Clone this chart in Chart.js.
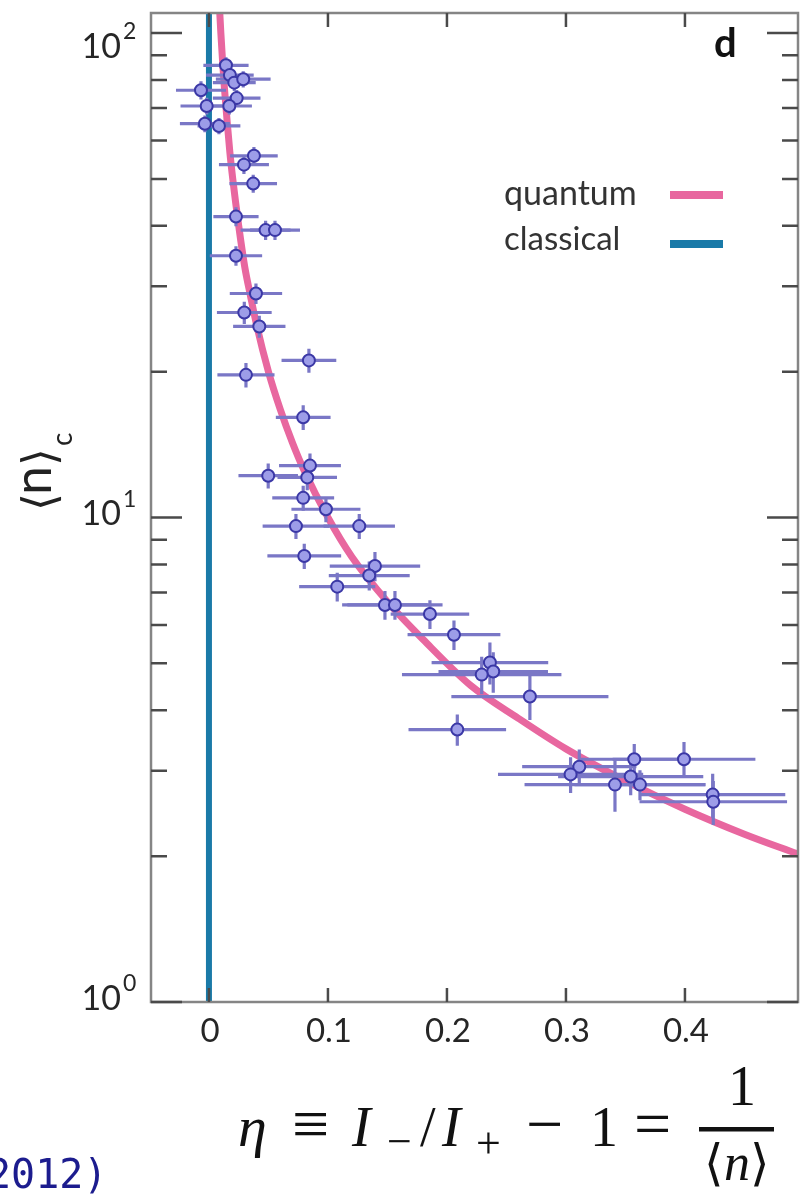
<!DOCTYPE html>
<html>
<head>
<meta charset="utf-8">
<script src="https://cdn.jsdelivr.net/npm/chart.js@4.4.1/dist/chart.umd.min.js"></script>
<style>
  html, body { margin: 0; padding: 0; background: #fff; }
  #wrap { width: 806px; height: 1195px; }
</style>
</head>
<body>
<div id="wrap"><canvas id="chart" width="806" height="1195"></canvas></div>
<script>
// === measured points: eta, <n>_c and their error bars ===
const etaVals = [0.0143, 0.0176, 0.0213, 0.0288, -0.0067, 0.0233, 0.0171, -0.0019, -0.0034, 0.0084,
                 0.0378, 0.0294, 0.0372, 0.0227, 0.0476, 0.0555, 0.0227, 0.0395, 0.0297, 0.0423,
                 0.0840, 0.0311, 0.0792, 0.0849, 0.0498, 0.0826, 0.0792, 0.0983, 0.0731, 0.1263,
                 0.0801, 0.1395, 0.1347, 0.1078, 0.1479, 0.1563, 0.1857, 0.2059, 0.2361, 0.2389,
                 0.2292, 0.2697, 0.2087, 0.3112, 0.3039, 0.3574, 0.3992, 0.3544, 0.3412, 0.3622,
                 0.4233, 0.4238];
const nVals = [85.8, 81.9, 79.0, 80.3, 76.2, 73.4, 70.7, 70.7, 65.0, 64.3,
               55.8, 53.5, 48.9, 41.8, 39.2, 39.2, 34.7, 29.0, 26.5, 24.8,
               21.1, 19.7, 16.1, 12.8, 12.2, 12.1, 10.98, 10.4, 9.6, 9.6,
               8.33, 7.94, 7.59, 7.20, 6.60, 6.60, 6.32, 5.73, 5.02, 4.81,
               4.74, 4.27, 3.65, 3.06, 2.95, 3.17, 3.17, 2.92, 2.81, 2.81,
               2.68, 2.59];
const etaErr = [0.019, 0.020, 0.018, 0.023, 0.021, 0.020, 0.019, 0.022, 0.021, 0.018,
                0.020, 0.021, 0.020, 0.019, 0.021, 0.021, 0.022, 0.022, 0.023, 0.022,
                0.023, 0.024, 0.023, 0.026, 0.025, 0.025, 0.026, 0.029, 0.028, 0.030,
                0.031, 0.038, 0.034, 0.032, 0.036, 0.040, 0.033, 0.039, 0.049, 0.046,
                0.067, 0.066, 0.041, 0.048, 0.061, 0.045, 0.060, 0.061, 0.076, 0.055,
                0.061, 0.062];
const nErr = [3.3, 3.2, 3.1, 3.1, 3.3, 2.9, 2.8, 2.8, 2.6, 2.5,
              2.4, 2.3, 2.1, 1.9, 1.8, 1.8, 1.6, 1.4, 1.4, 1.3,
              1.2, 1.15, 0.95, 0.75, 0.72, 0.72, 0.65, 0.62, 0.57, 0.57,
              0.5, 0.55, 0.52, 0.49, 0.45, 0.45, 0.43, 0.40, 0.5, 0.46,
              0.42, 0.45, 0.27, 0.26, 0.25, 0.24, 0.27, 0.25, 0.34, 0.2,
              0.28, 0.27];

// quantum prediction curve
const etaCurve = [0.0091, 0.01, 0.0115, 0.013, 0.015, 0.0175, 0.02, 0.025, 0.03, 0.035, 0.04, 0.05, 0.06,
                  0.07, 0.08, 0.1, 0.12, 0.15, 0.18, 0.22, 0.26, 0.3, 0.35, 0.4, 0.45, 0.495];
const nCurve = [110, 100, 87, 77, 67, 57, 50, 40, 33, 28.6, 25, 20, 16.7,
                14.3, 12.5, 10, 8.3, 6.7, 5.6, 4.5, 3.85, 3.33, 2.86, 2.5, 2.22, 2.02];

// classical limit: vertical line at eta = 0
const etaClassical = [0, 0];
const nClassical = [1, 110];

const xTicks = [0, 0.1, 0.2, 0.3, 0.4];
const xTickLabels = ['0', '0.1', '0.2', '0.3', '0.4'];
const yDecades = [1, 10, 100];
const yDecadeExp = ['0', '1', '2'];

const pink = '#e8679f';
const teal = '#1a7aa8';

function pairs(xs, ys) {
    return xs.map((x, i) => ({ x: x, y: ys[i] }));
}

const decorations = {
    id: 'decorations',
    beforeDatasetDraw(chart, args) {
        if (args.index !== 0) return;
        const ctx = chart.ctx, xs = chart.scales.x, ys = chart.scales.y, a = chart.chartArea;
        ctx.save();
        ctx.beginPath();
        ctx.rect(a.left, a.top, a.right - a.left, a.bottom - a.top);
        ctx.clip();
        ctx.strokeStyle = '#7a77c6';
        ctx.lineWidth = 3.2;
        for (let i = 0; i < etaVals.length; i++) {
            const px = xs.getPixelForValue(etaVals[i]);
            const py = ys.getPixelForValue(nVals[i]);
            ctx.beginPath();
            ctx.moveTo(xs.getPixelForValue(etaVals[i] - etaErr[i]), py);
            ctx.lineTo(xs.getPixelForValue(etaVals[i] + etaErr[i]), py);
            ctx.moveTo(px, ys.getPixelForValue(nVals[i] - nErr[i]));
            ctx.lineTo(px, ys.getPixelForValue(nVals[i] + nErr[i]));
            ctx.stroke();
        }
        ctx.restore();
    },
    afterDraw(chart) {
        const ctx = chart.ctx, xs = chart.scales.x, ys = chart.scales.y, a = chart.chartArea;
        ctx.save();
        // frame
        ctx.strokeStyle = '#858585';
        ctx.lineWidth = 2.5;
        ctx.strokeRect(a.left, a.top, a.right - a.left, a.bottom - a.top);

        // inward ticks, y (log)
        ctx.strokeStyle = '#4a4a4a';
        ctx.lineWidth = 2.5;
        ctx.beginPath();
        for (const d of yDecades) {
            for (let m = 1; m <= 9; m++) {
                const v = d * m;
                if (v > ys.max) break;
                const py = ys.getPixelForValue(v);
                const len = m === 1 ? 31 : 16;
                ctx.moveTo(a.left, py); ctx.lineTo(a.left + len, py);
                ctx.moveTo(a.right, py); ctx.lineTo(a.right - len, py);
            }
        }
        // inward ticks, x
        for (const t of xTicks) {
            const px = xs.getPixelForValue(t);
            ctx.moveTo(px, a.bottom); ctx.lineTo(px, a.bottom - 14);
            ctx.moveTo(px, a.top); ctx.lineTo(px, a.top + 14);
        }
        ctx.stroke();

        // tick labels
        ctx.fillStyle = '#262626';
        ctx.font = '33px Lato';
        ctx.textAlign = 'center';
        ctx.textBaseline = 'middle';
        xTicks.forEach((t, i) => {
            ctx.fillText(xTickLabels[i], xs.getPixelForValue(t) + 1, 1031);
        });
        yDecades.forEach((d, i) => {
            const py = Math.max(ys.getPixelForValue(d) - 3, a.top + 34);
            ctx.font = '34px Lato';
            ctx.textAlign = 'right';
            ctx.fillText('10', 121, py);
            ctx.font = '23px Lato';
            ctx.textAlign = 'left';
            ctx.fillText(yDecadeExp[i], 123, py - 15);
        });

        // panel letter
        ctx.font = 'bold 40px Lato';
        ctx.textAlign = 'left';
        ctx.textBaseline = 'alphabetic';
        ctx.fillStyle = '#111';
        ctx.fillText('d', 714, 57);

        // legend
        ctx.font = '34px Lato';
        ctx.fillStyle = '#333';
        ctx.fillText('quantum', 504, 205);
        ctx.font = '33px Lato';
        ctx.fillText('classical', 504, 250);
        ctx.lineWidth = 8;
        ctx.strokeStyle = pink;
        ctx.beginPath(); ctx.moveTo(670, 195); ctx.lineTo(723, 195); ctx.stroke();
        ctx.strokeStyle = teal;
        ctx.beginPath(); ctx.moveTo(670, 244); ctx.lineTo(723, 244); ctx.stroke();

        // y axis title, rotated
        ctx.save();
        ctx.translate(51, 508);
        ctx.rotate(-Math.PI / 2);
        ctx.fillStyle = '#222';
        ctx.font = '46px "DejaVu Sans"';
        ctx.fillText('\u27E8', -3, 4);
        ctx.font = '52px Lato';
        ctx.fillText('n', 13, 0);
        ctx.font = '46px "DejaVu Sans"';
        ctx.fillText('\u27E9', 42, 4);
        ctx.font = '28px Lato';
        ctx.fillText('c', 62, 21);
        ctx.restore();

        // x axis title
        ctx.fillStyle = '#111';
        const serif = '"Liberation Serif", "Times New Roman", serif';
        const base = 1146;
        ctx.font = 'italic 58px ' + serif;
        ctx.fillText('\u03B7', 238, base);
        ctx.font = '66px ' + serif;
        ctx.fillText('\u2261', 292, base);
        ctx.font = 'italic 56px ' + serif;
        ctx.fillText('I', 352, base);
        ctx.font = '44px ' + serif;
        ctx.fillText('\u2212', 387, base + 10);
        ctx.font = '56px ' + serif;
        ctx.fillText('/', 420, base);
        ctx.font = 'italic 56px ' + serif;
        ctx.fillText('I', 442, base);
        ctx.font = '44px ' + serif;
        ctx.fillText('+', 476, base + 12);
        ctx.font = '66px ' + serif;
        ctx.fillText('\u2212', 526, base);
        ctx.font = '56px ' + serif;
        ctx.fillText('1', 590, base);
        ctx.font = '66px ' + serif;
        ctx.fillText('=', 634, base);
        ctx.fillRect(699, 1127, 75, 4.5);
        ctx.font = '56px ' + serif;
        ctx.textAlign = 'center';
        ctx.fillText('1', 742, 1105);
        // denominator <n>, centred under the bar
        ctx.textAlign = 'left';
        const br = '50px ' + serif, it = 'italic 52px ' + serif;
        ctx.font = br; const wl = ctx.measureText('\u27E8').width;
        ctx.font = it; const wn = ctx.measureText('n').width;
        ctx.font = br; const wr = ctx.measureText('\u27E9').width;
        let x0 = 737 - (wl + wn + wr) / 2;
        ctx.font = br; ctx.fillText('\u27E8', x0, 1180);
        ctx.font = it; ctx.fillText('n', x0 + wl, 1180);
        ctx.font = br; ctx.fillText('\u27E9', x0 + wl + wn, 1180);

        // citation fragment, cut at the page edge
        ctx.font = '40px "DejaVu Sans Mono"';
        ctx.fillStyle = '#1c1c8e';
        ctx.fillText('2012)', -13, 1188);
        ctx.restore();
    }
};

new Chart(document.getElementById('chart'), {
    type: 'scatter',
    data: {
        datasets: [{
            label: 'data',
            data: pairs(etaVals, nVals),
            pointRadius: 6,
            pointBackgroundColor: '#9d9de8',
            pointBorderColor: '#3b38a6',
            pointBorderWidth: 2,
            showLine: false
        }, {
            label: 'quantum',
            data: pairs(etaCurve, nCurve),
            showLine: true,
            borderColor: pink,
            borderWidth: 7,
            pointRadius: 0,
            cubicInterpolationMode: 'monotone'
        }, {
            label: 'classical',
            data: pairs(etaClassical, nClassical),
            showLine: true,
            borderColor: teal,
            borderWidth: 6,
            pointRadius: 0
        }]
    },
    options: {
        responsive: false,
        animation: false,
        devicePixelRatio: 1,
        layout: { padding: { left: 151, right: 8, top: 13, bottom: 193 } },
        plugins: {
            legend: { display: false },
            tooltip: { enabled: false }
        },
        scales: {
            x: { type: 'linear', min: -0.0487, max: 0.495, display: false },
            y: { type: 'logarithmic', min: 1, max: 110, display: false }
        }
    },
    plugins: [decorations]
});
</script>
</body>
</html>
